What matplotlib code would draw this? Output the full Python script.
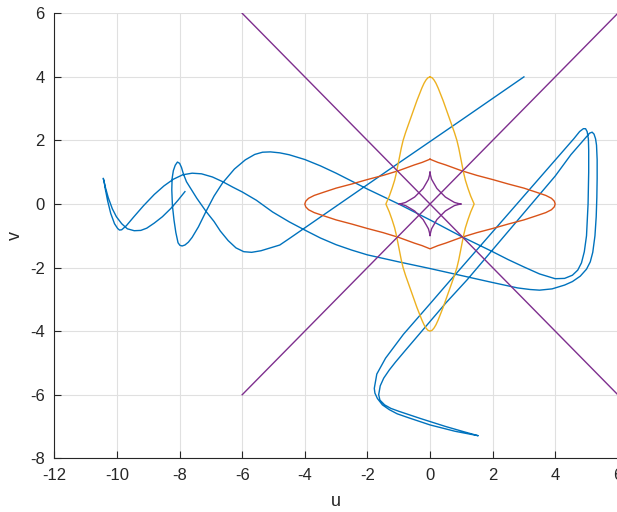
import numpy as np
import matplotlib
matplotlib.use("Agg")
import matplotlib.pyplot as plt

# trajectory in the (u, v) plane, traced end to end
traj_u = [
    -7.83, -8.05, -8.28, -8.55, -8.81, -9.05, -9.24, -9.45, -9.67, -9.85, -10.02, -10.15, -10.28, -10.37, -10.42, -10.44,
    -10.41, -10.38, -10.30, -10.20, -10.08, -9.98, -9.92, -9.85, -9.70, -9.46, -9.15, -8.81, -8.50, -8.20, -7.90, -7.60, -7.30,
    -6.95, -6.62, -6.30, -6.00, -5.55, -5.03, -4.50, -4.00, -3.50, -3.00, -2.50, -2.00, -1.00, 0.00, 1.00, 2.00,
    2.80, 3.20, 3.50, 3.90, 4.30, 4.55, 4.80, 5.00, 5.12, 5.20, 5.27, 5.31, 5.33, 5.34, 5.34, 5.32, 5.29, 5.24, 5.18, 5.10,
    4.50, 4.00, 3.00, 2.00, 1.19, 0.50, -0.22, -0.80, -1.10, -1.30, -1.48, -1.59, -1.64, -1.60, -1.45, -1.25, -1.00, -0.30, 0.50, 1.10, 1.54,
    0.80, 0.00, -0.70, -1.05, -1.30, -1.52, -1.68, -1.76, -1.78, -1.70, -1.42, -0.85, 0.00, 0.64, 1.50, 2.50, 3.50, 4.30, 4.60, 4.78, 4.90,
    4.97, 5.02, 5.06, 5.07, 5.07, 5.05, 5.00, 4.93, 4.84, 4.72, 4.55, 4.30, 4.00, 3.50, 3.00, 2.50, 2.00, 1.00, 0.00, -1.00,
    -2.00, -2.50, -3.00, -3.50, -4.00, -4.50, -4.80, -5.10, -5.35, -5.60, -5.90, -6.25, -6.63, -6.90, -7.15, -7.40, -7.60,
    -7.72, -7.83, -7.92, -7.99, -8.05, -8.12, -8.18, -8.23, -8.25, -8.24, -8.20, -8.14, -8.07, -8.00, -7.94, -7.88, -7.78, -7.62, -7.45, -7.15,
    -6.90, -6.70, -6.45, -6.20, -5.95, -5.70, -5.40, -5.03, -4.80, -4.50, -3.00, -1.00, 1.00, 3.00,
]
traj_v = [
    0.39, 0.12, -0.14, -0.40, -0.60, -0.76, -0.83, -0.84, -0.78, -0.62, -0.40, -0.15, 0.20, 0.52, 0.72, 0.81,
    0.70, 0.50, 0.10, -0.30, -0.62, -0.77, -0.82, -0.81, -0.68, -0.40, -0.05, 0.30, 0.57, 0.78, 0.92, 0.97, 0.95,
    0.85, 0.70, 0.53, 0.38, 0.12, -0.25, -0.56, -0.82, -1.07, -1.28, -1.45, -1.60, -1.82, -2.03, -2.25, -2.47,
    -2.64, -2.69, -2.71, -2.67, -2.55, -2.44, -2.27, -2.05, -1.82, -1.52, -1.00, -0.40, 0.20, 0.80, 1.40, 1.85, 2.05, 2.20, 2.26, 2.23,
    1.55, 0.88, -0.28, -1.44, -2.38, -3.12, -3.95, -4.62, -4.97, -5.22, -5.48, -5.72, -6.00, -6.17, -6.32, -6.43, -6.52, -6.75, -7.00, -7.17, -7.29,
    -7.15, -6.95, -6.72, -6.60, -6.47, -6.32, -6.12, -5.95, -5.80, -5.35, -4.85, -4.10, -3.14, -2.41, -1.44, -0.31, 0.82, 1.72, 2.06, 2.28, 2.37,
    2.37, 2.28, 2.05, 1.70, 1.00, 0.00, -1.00, -1.50, -1.85, -2.08, -2.24, -2.34, -2.35, -2.20, -1.98, -1.75, -1.50, -1.02, -0.50, 0.00,
    0.47, 0.72, 0.97, 1.20, 1.40, 1.55, 1.61, 1.64, 1.63, 1.56, 1.39, 1.10, 0.66, 0.25, -0.22, -0.72, -1.05,
    -1.20, -1.29, -1.32, -1.30, -1.22, -0.90, -0.50, -0.05, 0.45, 0.80, 1.05, 1.22, 1.32, 1.28, 1.15, 0.95, 0.70, 0.45, 0.18, -0.24,
    -0.55, -0.85, -1.15, -1.38, -1.50, -1.52, -1.47, -1.36, -1.29, -1.09, -0.07, 1.29, 2.64, 4.00,
]

# one quadrant of each closed curve (u >= 0, v >= 0), starting on the v axis
lens_h_u = [0.0, 0.25, 0.5, 1.0, 1.5, 2.0, 2.5, 3.0, 3.4, 3.7, 3.88, 3.97, 4.0]
lens_h_v = [1.41, 1.31, 1.23, 1.05, 0.90, 0.77, 0.63, 0.50, 0.37, 0.27, 0.18, 0.09, 0.0]

lens_v_u = [0.0, 0.07, 0.13, 0.19, 0.26, 0.32, 0.42, 0.51, 0.60, 0.69, 0.78, 0.86, 0.92,
            0.97, 1.02, 1.07, 1.13, 1.21, 1.30, 1.41]
lens_v_v = [4.0, 3.97, 3.9, 3.8, 3.65, 3.5, 3.25, 3.0, 2.75, 2.5, 2.25, 2.0, 1.75,
            1.5, 1.25, 1.0, 0.75, 0.5, 0.25, 0.0]

star_u = [0.0, 0.005, 0.017, 0.05, 0.125, 0.22, 0.354, 0.49, 0.65, 0.78, 0.901, 0.96, 1.0]
star_v = [1.0, 0.96, 0.901, 0.78, 0.65, 0.49, 0.354, 0.22, 0.125, 0.05, 0.017, 0.005, 0.0]

# the two diagonals
diag_u = [-6, 6]
diag_v = [-6, 6]

xticks = [-12, -10, -8, -6, -4, -2, 0, 2, 4, 6]
yticks = [-8, -6, -4, -2, 0, 2, 4, 6]

BLUE = "#0072BD"
ORANGE = "#D95319"
YELLOW = "#EDB120"
PURPLE = "#7E2F8E"
AXC = "#262626"


def closed(qu, qv):
    """Mirror one quadrant into a closed curve."""
    qu = np.asarray(qu, float)
    qv = np.asarray(qv, float)
    u = np.concatenate([qu, qu[::-1], -qu, -qu[::-1]])
    v = np.concatenate([qv, -qv[::-1], -qv, qv[::-1]])
    return u, v


plt.rcParams["font.family"] = ["Liberation Sans", "DejaVu Sans"]
plt.rcParams["axes.unicode_minus"] = False

fig = plt.figure(figsize=(6.17, 5.12), dpi=100)
ax = fig.add_axes([0.0882, 0.1049, 0.9131, 0.8691])

lw = 1.0
ax.plot(traj_u, traj_v, color=BLUE, lw=lw)
ax.plot(*closed(lens_h_u, lens_h_v), color=ORANGE, lw=lw)
ax.plot(*closed(lens_v_u, lens_v_v), color=YELLOW, lw=lw)
ax.plot(*closed(star_u, star_v), color=PURPLE, lw=lw)
ax.plot(diag_u, diag_v, color=PURPLE, lw=lw)
ax.plot(diag_u, [-d for d in diag_v], color=PURPLE, lw=lw)

ax.set_xlim(-12, 6)
ax.set_ylim(-8, 6)
ax.set_xticks(xticks)
ax.set_yticks(yticks)
ax.grid(True, color="#e0e0e0", lw=0.8)
ax.set_axisbelow(True)

for side in ("top", "right"):
    ax.spines[side].set_visible(False)
for side in ("left", "bottom"):
    ax.spines[side].set_color(AXC)
    ax.spines[side].set_linewidth(0.8)

ax.tick_params(direction="in", length=5, width=0.8, colors=AXC,
               labelsize=12, labelcolor=AXC, pad=7)
ax.set_xlabel("u", fontsize=13, color=AXC, labelpad=7)
ax.set_ylabel("v", fontsize=13, color=AXC, labelpad=4)

fig.savefig("out.png", dpi=100)
